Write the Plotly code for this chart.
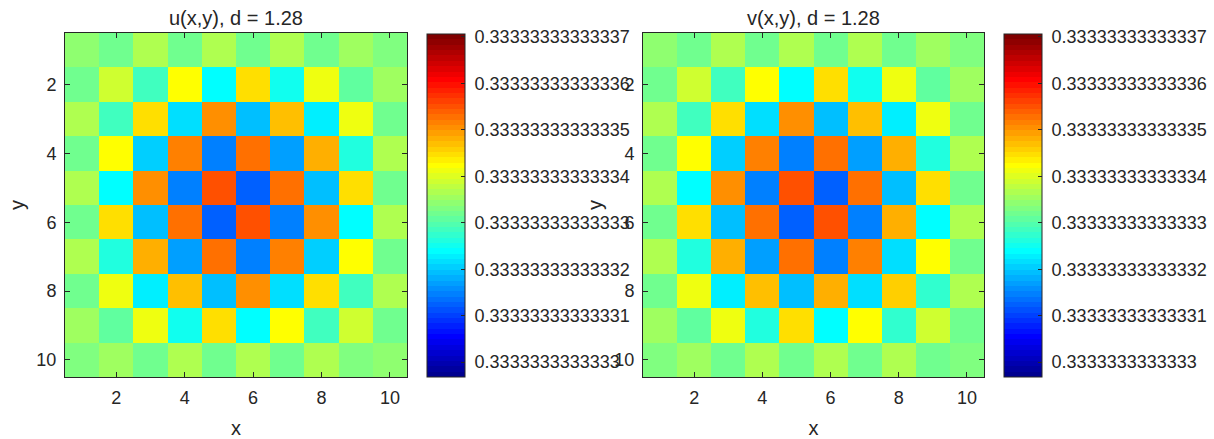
import numpy as np
import plotly.graph_objects as go

# Grid coordinates
xs = list(range(1, 11))
ys = list(range(1, 11))

# Field values stored as offsets from BASE, in units of UNIT
BASE = 0.3333333333333
UNIT = 1e-14

u_offsets = [
    [3.41, 3.16, 3.68, 3.16, 3.68, 3.16, 3.68, 3.16, 3.56, 3.34],
    [3.25, 3.85, 2.83, 4.26, 2.43, 4.42, 2.54, 4.15, 3.08, 3.56],
    [3.68, 2.83, 4.51, 2.14, 4.99, 1.95, 4.71, 2.24, 4.15, 3.16],
    [3.16, 4.26, 2.05, 5.10, 1.51, 5.28, 1.73, 4.77, 2.61, 3.68],
    [3.68, 2.43, 4.99, 1.51, 5.51, 1.28, 5.28, 1.97, 4.42, 3.16],
    [3.16, 4.42, 1.97, 5.28, 1.28, 5.51, 1.51, 4.99, 2.43, 3.68],
    [3.68, 2.61, 4.77, 1.73, 5.28, 1.51, 5.10, 2.05, 4.26, 3.16],
    [3.16, 4.15, 2.24, 4.71, 1.95, 4.99, 2.14, 4.51, 2.83, 3.68],
    [3.56, 3.08, 4.15, 2.54, 4.42, 2.43, 4.26, 2.83, 3.85, 3.25],
    [3.34, 3.56, 3.16, 3.68, 3.16, 3.68, 3.16, 3.68, 3.32, 3.41],
]

v_offsets = [
    [3.41, 3.25, 3.68, 3.16, 3.68, 3.16, 3.68, 3.16, 3.56, 3.34],
    [3.25, 3.85, 2.83, 4.26, 2.43, 4.42, 2.54, 4.15, 3.08, 3.56],
    [3.68, 2.83, 4.51, 2.14, 4.99, 1.88, 4.71, 2.24, 4.15, 3.16],
    [3.16, 4.26, 2.05, 5.10, 1.51, 5.28, 1.73, 4.77, 2.61, 3.68],
    [3.68, 2.43, 4.99, 1.51, 5.51, 1.28, 5.28, 1.97, 4.51, 3.16],
    [3.16, 4.42, 1.88, 5.28, 1.28, 5.51, 1.51, 4.86, 2.43, 3.68],
    [3.68, 2.61, 4.77, 1.73, 5.28, 1.51, 5.10, 2.10, 4.26, 3.16],
    [3.16, 4.15, 2.24, 4.71, 1.88, 4.86, 2.10, 4.60, 2.78, 3.68],
    [3.56, 3.08, 4.15, 2.61, 4.42, 2.43, 4.26, 2.78, 3.85, 3.25],
    [3.34, 3.56, 3.16, 3.68, 3.16, 3.68, 3.16, 3.68, 3.25, 3.34],
]

# Color limits (offset units) and colorbar tick labels
clim_offsets = [-0.32, 7.06]
cbar_ticktext = [
    "0.3333333333333", "0.33333333333331", "0.33333333333332",
    "0.33333333333333", "0.33333333333334", "0.33333333333335",
    "0.33333333333336", "0.33333333333337",
]
axis_ticks = [2, 4, 6, 8, 10]
titles = ["u(x,y), d = 1.28", "v(x,y), d = 1.28"]

u = BASE + np.array(u_offsets) * UNIT
v = BASE + np.array(v_offsets) * UNIT
cmin = BASE + clim_offsets[0] * UNIT
cmax = BASE + clim_offsets[1] * UNIT
cbar_tickvals = [float(s) for s in cbar_ticktext]
# a no-break space keeps the labels clear of the bar edge
cbar_labels = ["\u00a0" + s for s in cbar_ticktext]


def jet_colors(m=64):
    """MATLAB-style jet colormap with m entries."""
    n = int(np.ceil(m / 4))
    ramp = np.concatenate([np.arange(1, n + 1) / n, np.ones(n - 1), np.arange(n, 0, -1) / n])
    g = int(np.ceil(n / 2)) - (1 if m % 4 == 1 else 0) + np.arange(1, len(ramp) + 1)
    r = g + n
    b = g - n
    cmap = np.zeros((m, 3))
    for idx, val in zip(r, ramp):
        if 1 <= idx <= m:
            cmap[idx - 1, 0] = val
    for idx, val in zip(g, ramp):
        if 1 <= idx <= m:
            cmap[idx - 1, 1] = val
    for idx, val in zip(b, ramp):
        if 1 <= idx <= m:
            cmap[idx - 1, 2] = val
    return cmap


cmap = jet_colors(64)
colorscale = []
for k, (r, g, b) in enumerate(cmap):
    c = f"rgb({int(round(r*255))},{int(round(g*255))},{int(round(b*255))})"
    colorscale.append([k / 64, c])
    colorscale.append([(k + 1) / 64, c])

W, H = 1214, 439
TXT = "#262626"
FONT = "Liberation Sans, Arial, sans-serif"


def px_x(p):
    return p / W


def px_y(p):
    return 1 - p / H


plot_top, plot_bottom = 33, 377
x_domains = [(65, 407), (643, 984)]
cbar_left = [427, 1004]
cbar_top, cbar_bottom = 34, 377

fig = go.Figure()

for i, z in enumerate([u, v]):
    sfx = "" if i == 0 else str(i + 1)
    fig.add_trace(go.Heatmap(
        z=z, x=xs, y=ys,
        coloraxis="coloraxis" + sfx,
        xaxis="x" + sfx, yaxis="y" + sfx,
        hoverinfo="skip",
    ))

layout = dict(
    width=W, height=H,
    margin=dict(l=0, r=0, t=0, b=0),
    paper_bgcolor="white", plot_bgcolor="white",
    font=dict(family=FONT, color=TXT, size=18),
    showlegend=False,
)

axis_common = dict(
    showgrid=False, zeroline=False, showline=True,
    linecolor=TXT, linewidth=1, mirror="ticks",
    ticks="inside", ticklen=5, tickwidth=1, tickcolor=TXT,
    tickfont=dict(size=18, color=TXT, family=FONT),
    tickvals=axis_ticks,
    ticklabelstandoff=4,
)

annotations = []
for i in range(2):
    sfx = "" if i == 0 else str(i + 1)
    x0, x1 = x_domains[i]
    layout["xaxis" + sfx] = dict(
        axis_common,
        domain=[px_x(x0), px_x(x1)],
        range=[0.5, 10.5],
        anchor="y" + sfx,
        title=dict(text="x", font=dict(size=20, color=TXT, family=FONT), standoff=14),
    )
    layout["yaxis" + sfx] = dict(
        axis_common,
        domain=[px_y(plot_bottom), px_y(plot_top)],
        range=[10.5, 0.5],
        anchor="x" + sfx,
        title=dict(text="y", font=dict(size=20, color=TXT, family=FONT), standoff=6),
    )
    layout["coloraxis" + sfx] = dict(
        colorscale=colorscale, cmin=cmin, cmax=cmax,
        colorbar=dict(
            x=px_x(cbar_left[i]), xanchor="left", xref="paper",
            y=px_y(cbar_bottom), yanchor="bottom", yref="paper",
            len=(cbar_bottom - cbar_top) / H, lenmode="fraction",
            thickness=38, thicknessmode="pixels",
            xpad=0, ypad=0,
            outlinewidth=1, outlinecolor=TXT,
            ticks="inside", ticklen=4, tickcolor=TXT,
            tickvals=cbar_tickvals, ticktext=cbar_labels,
            tickfont=dict(size=18, color=TXT, family=FONT),
        ),
    )
    annotations.append(dict(
        text=titles[i], xref="paper", yref="paper",
        x=px_x((x0 + x1) / 2), y=px_y(31), xanchor="center", yanchor="bottom",
        showarrow=False, font=dict(size=20, color=TXT, family=FONT),
    ))

layout["annotations"] = annotations
fig.update_layout(**layout)

fig.write_html("out.html")
